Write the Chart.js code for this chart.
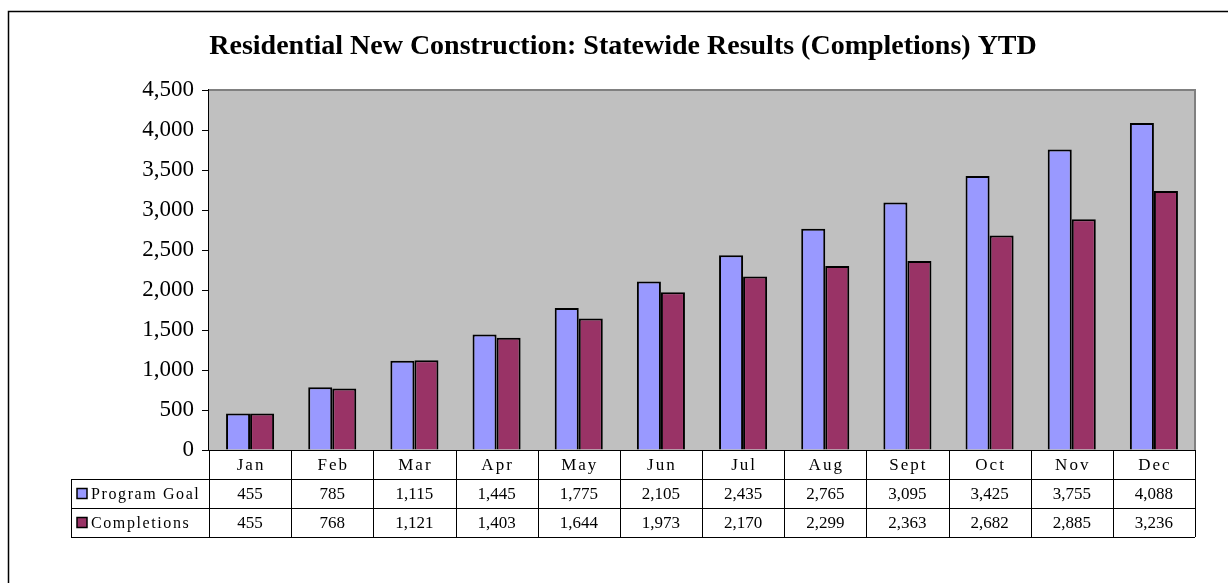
<!DOCTYPE html>
<html>
<head>
<meta charset="utf-8">
<script src="https://cdn.jsdelivr.net/npm/chart.js@4/dist/chart.umd.min.js"></script>
<style>
  html, body { margin: 0; padding: 0; background: #fff; }
  #wrap { width: 1228px; height: 583px; }
</style>
</head>
<body>
<div id="wrap"><canvas id="rncChart" width="1228" height="583"></canvas></div>
<script>
// datos
const months = ['Jan', 'Feb', 'Mar', 'Apr', 'May', 'Jun', 'Jul', 'Aug', 'Sept', 'Oct', 'Nov', 'Dec'];
const programGoal = [455, 785, 1115, 1445, 1775, 2105, 2435, 2765, 3095, 3425, 3755, 4088];
const completions = [455, 768, 1121, 1403, 1644, 1973, 2170, 2299, 2363, 2682, 2885, 3236];
const yTicks = [0, 500, 1000, 1500, 2000, 2500, 3000, 3500, 4000, 4500];

const seriesNames = ['Program Goal', 'Completions'];
const seriesColors = ['#9999FF', '#993366'];
const serif = '"Liberation Serif", "Times New Roman", serif';

function fmt(v) {
    return v.toLocaleString('en-US');
}

// fondo gris, marco, titulo y tabla de datos
const excelLook = {
    id: 'excelLook',
    beforeDatasetsDraw(chart) {
        const { ctx, chartArea: a } = chart;
        ctx.save();
        ctx.fillStyle = '#C0C0C0';
        ctx.fillRect(a.left, a.top, a.right - a.left, a.bottom - a.top);
        ctx.restore();
    },
    afterDraw(chart) {
        const { ctx, chartArea: a } = chart;
        const x = chart.scales.x;
        ctx.save();

        // marco exterior
        ctx.strokeStyle = '#000';
        ctx.lineWidth = 1.5;
        ctx.strokeRect(8.5, 11.5, 1260, 620);

        // titulo
        ctx.fillStyle = '#000';
        ctx.font = 'bold 28px ' + serif;
        ctx.textAlign = 'center';
        ctx.textBaseline = 'middle';
        ctx.fillText('Residential New Construction: Statewide Results (Completions) YTD', 623, 47);

        // borde del area de trazado
        ctx.strokeStyle = '#808080';
        ctx.lineWidth = 2;
        ctx.beginPath();
        ctx.moveTo(a.left, a.top);
        ctx.lineTo(a.right, a.top);
        ctx.lineTo(a.right, a.bottom);
        ctx.stroke();

        // tabla
        const half = (a.right - a.left) / months.length / 2;
        const rowH = 29;
        const top = a.bottom;
        const legLeft = 71;
        ctx.strokeStyle = '#000';
        ctx.lineWidth = 1;
        ctx.beginPath();
        ctx.moveTo(a.left, top + 0.5); ctx.lineTo(a.right, top + 0.5);
        for (let r = 1; r <= 3; r++) {
            const yy = Math.round(top + r * rowH) + 0.5;
            ctx.moveTo(legLeft, yy); ctx.lineTo(a.right, yy);
        }
        ctx.moveTo(legLeft + 0.5, top + rowH); ctx.lineTo(legLeft + 0.5, top + 3 * rowH);
        for (let i = 0; i <= months.length; i++) {
            const xx = Math.round(a.left + i * half * 2) + 0.5;
            ctx.moveTo(xx, top); ctx.lineTo(xx, top + 3 * rowH);
        }
        ctx.stroke();

        ctx.font = '17px ' + serif;
        ctx.textAlign = 'center';
        ctx.textBaseline = 'middle';
        months.forEach((m, i) => {
            const cx = x.getPixelForValue(i);
            ctx.letterSpacing = '2px';
            ctx.fillText(m, cx + 1, top + rowH / 2 + 1);
            ctx.letterSpacing = '0px';
            ctx.fillText(fmt(programGoal[i]), cx, top + rowH * 1.5 + 1);
            ctx.fillText(fmt(completions[i]), cx, top + rowH * 2.5 + 1);
        });

        ctx.textAlign = 'left';
        ctx.font = '16px ' + serif;
        seriesNames.forEach((name, r) => {
            const cy = top + rowH * (r + 1.5);
            ctx.fillStyle = seriesColors[r];
            ctx.fillRect(77, cy - 5, 10, 10);
            ctx.strokeStyle = '#000';
            ctx.lineWidth = 1.5;
            ctx.strokeRect(77, cy - 5, 10, 10);
            ctx.fillStyle = '#000';
            ctx.letterSpacing = '1.6px';
            ctx.fillText(name, 91, cy + 1);
        });
        ctx.letterSpacing = '0px';
        ctx.restore();
    }
};

new Chart(document.getElementById('rncChart').getContext('2d'), {
    type: 'bar',
    data: {
        labels: months,
        datasets: [
            { label: seriesNames[0], data: programGoal, backgroundColor: seriesColors[0],
              borderColor: '#000', borderWidth: 2 },
            { label: seriesNames[1], data: completions, backgroundColor: seriesColors[1],
              borderColor: '#000', borderWidth: 2 }
        ]
    },
    options: {
        responsive: false,
        animation: false,
        layout: { padding: { top: 90, right: 33, bottom: 133, left: 0 } },
        datasets: { bar: { categoryPercentage: 0.585, barPercentage: 1.0 } },
        plugins: { legend: { display: false }, title: { display: false }, tooltip: { enabled: false } },
        scales: {
            x: { display: false },
            y: {
                min: 0,
                max: yTicks[yTicks.length - 1],
                afterFit(scale) { scale.width = 209; },
                afterBuildTicks(scale) { scale.ticks = yTicks.map(v => ({ value: v })); },
                border: { display: true, color: '#000', width: 1.5 },
                grid: { drawOnChartArea: false, drawTicks: true, tickLength: 7, color: '#000' },
                ticks: {
                    color: '#000',
                    padding: 8,
                    font: { family: serif, size: 23 },
                    callback: v => fmt(v)
                }
            }
        }
    },
    plugins: [excelLook]
});
</script>
</body>
</html>
